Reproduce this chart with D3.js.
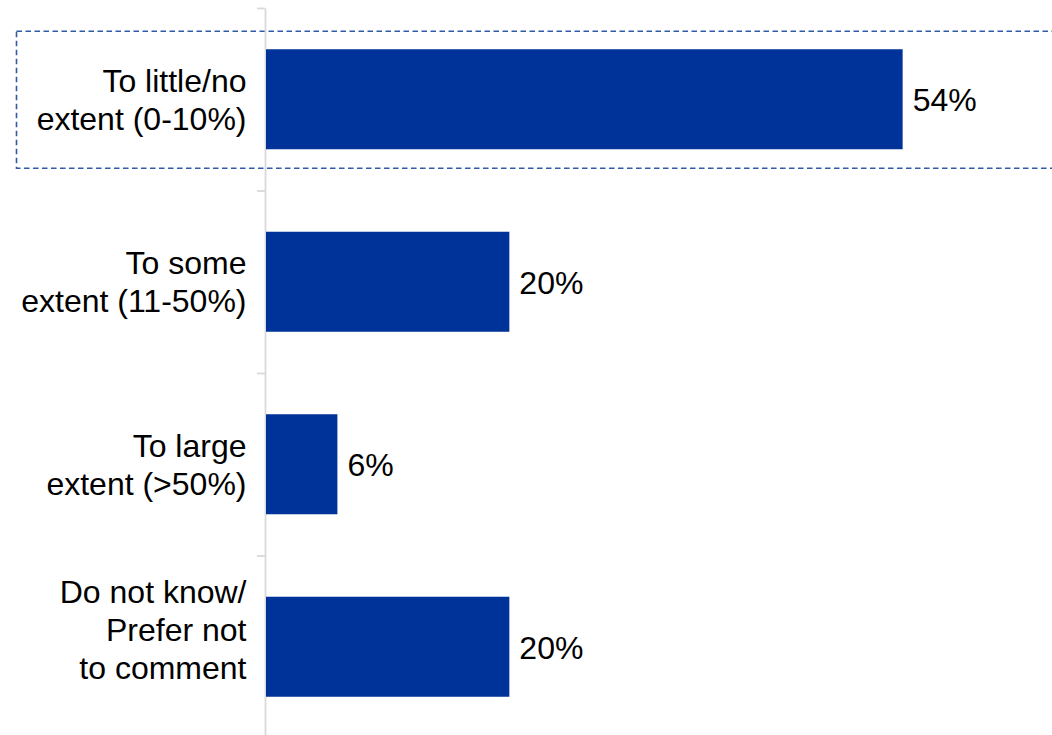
<!DOCTYPE html>
<html>
<head>
<meta charset="utf-8">
<script src="https://cdn.jsdelivr.net/npm/d3@7"></script>
<style>
  html, body { margin: 0; padding: 0; background: #ffffff; }
  svg { display: block; font-family: "Liberation Sans", Arial, sans-serif; }
</style>
</head>
<body>
<svg id="chart" width="1052" height="735"></svg>
<script>
// ---- data ----
const categories = [
  "To little/no extent (0-10%)",
  "To some extent (11-50%)",
  "To large extent (>50%)",
  "Do not know/ Prefer not to comment"
];
const categoryLines = [
  ["To little/no", "extent (0-10%)"],
  ["To some", "extent (11-50%)"],
  ["To large", "extent (>50%)"],
  ["Do not know/", "Prefer not", "to comment"]
];
const values = [53.5, 20.45, 6.0, 20.45];
const highlighted = ["To little/no extent (0-10%)"];

// ---- layout ----
const W = 1052, H = 735;
const axisX = 265;
const plotTop = 8, plotBottom = 738;
const fontSize = 32;
const lineH = 38;

const svg = d3.select("#chart");

const x = d3.scaleLinear().domain([0, 66]).range([axisX + 1, 1051.4]);
const yBand = d3.scaleBand().domain(categories).range([plotTop, plotBottom])
  .paddingInner(0.452).paddingOuter(0.226);
const yBound = d3.scaleLinear().domain([0, categories.length]).range([plotTop, plotBottom]);

// highlight dashed box
highlighted.forEach(c => {
  svg.append("rect")
    .attr("x", 16.5)
    .attr("y", yBand(c) - 18)
    .attr("width", W + 20)
    .attr("height", yBand.bandwidth() + 37)
    .attr("fill", "none")
    .attr("stroke", "#2f5aa8")
    .attr("stroke-width", 1.6)
    .attr("stroke-dasharray", "5.5,3.5");
});

// axis with ticks at category boundaries
const axis = d3.axisLeft(yBound)
  .tickValues(d3.range(categories.length + 1))
  .tickFormat("")
  .tickSize(8)
  .tickSizeOuter(0);
const gAxis = svg.append("g")
  .attr("transform", `translate(${axisX},0)`)
  .call(axis);
gAxis.select(".domain").attr("stroke", "#d9d9d9").attr("stroke-width", 1.8);
gAxis.selectAll(".tick line").attr("stroke", "#d9d9d9").attr("stroke-width", 1.8);

// bars
svg.append("g").selectAll("rect")
  .data(categories)
  .join("rect")
  .attr("x", x(0))
  .attr("y", d => yBand(d))
  .attr("width", (d, i) => x(values[i]) - x(0))
  .attr("height", yBand.bandwidth())
  .attr("fill", "#003399");

// value labels
svg.append("g").selectAll("text")
  .data(categories)
  .join("text")
  .attr("x", (d, i) => x(values[i]) + 10)
  .attr("y", d => yBand(d) + yBand.bandwidth() / 2 + 12)
  .attr("font-size", fontSize)
  .attr("fill", "#000")
  .text((d, i) => Math.round(values[i]) + "%");

// category labels
const gLab = svg.append("g");
categories.forEach((c, i) => {
  const lines = categoryLines[i];
  const n = lines.length;
  const cy = yBand(c) + yBand.bandwidth() / 2 + (n > 2 ? -17 : 0);
  const t = gLab.append("text")
    .attr("text-anchor", "end")
    .attr("font-size", fontSize)
    .attr("fill", "#000");
  lines.forEach((ln, j) => {
    t.append("tspan")
      .attr("x", 246.5)
      .attr("y", cy + (j - (n - 1) / 2) * lineH + 11.5)
      .text(ln);
  });
});
</script>
</body>
</html>
